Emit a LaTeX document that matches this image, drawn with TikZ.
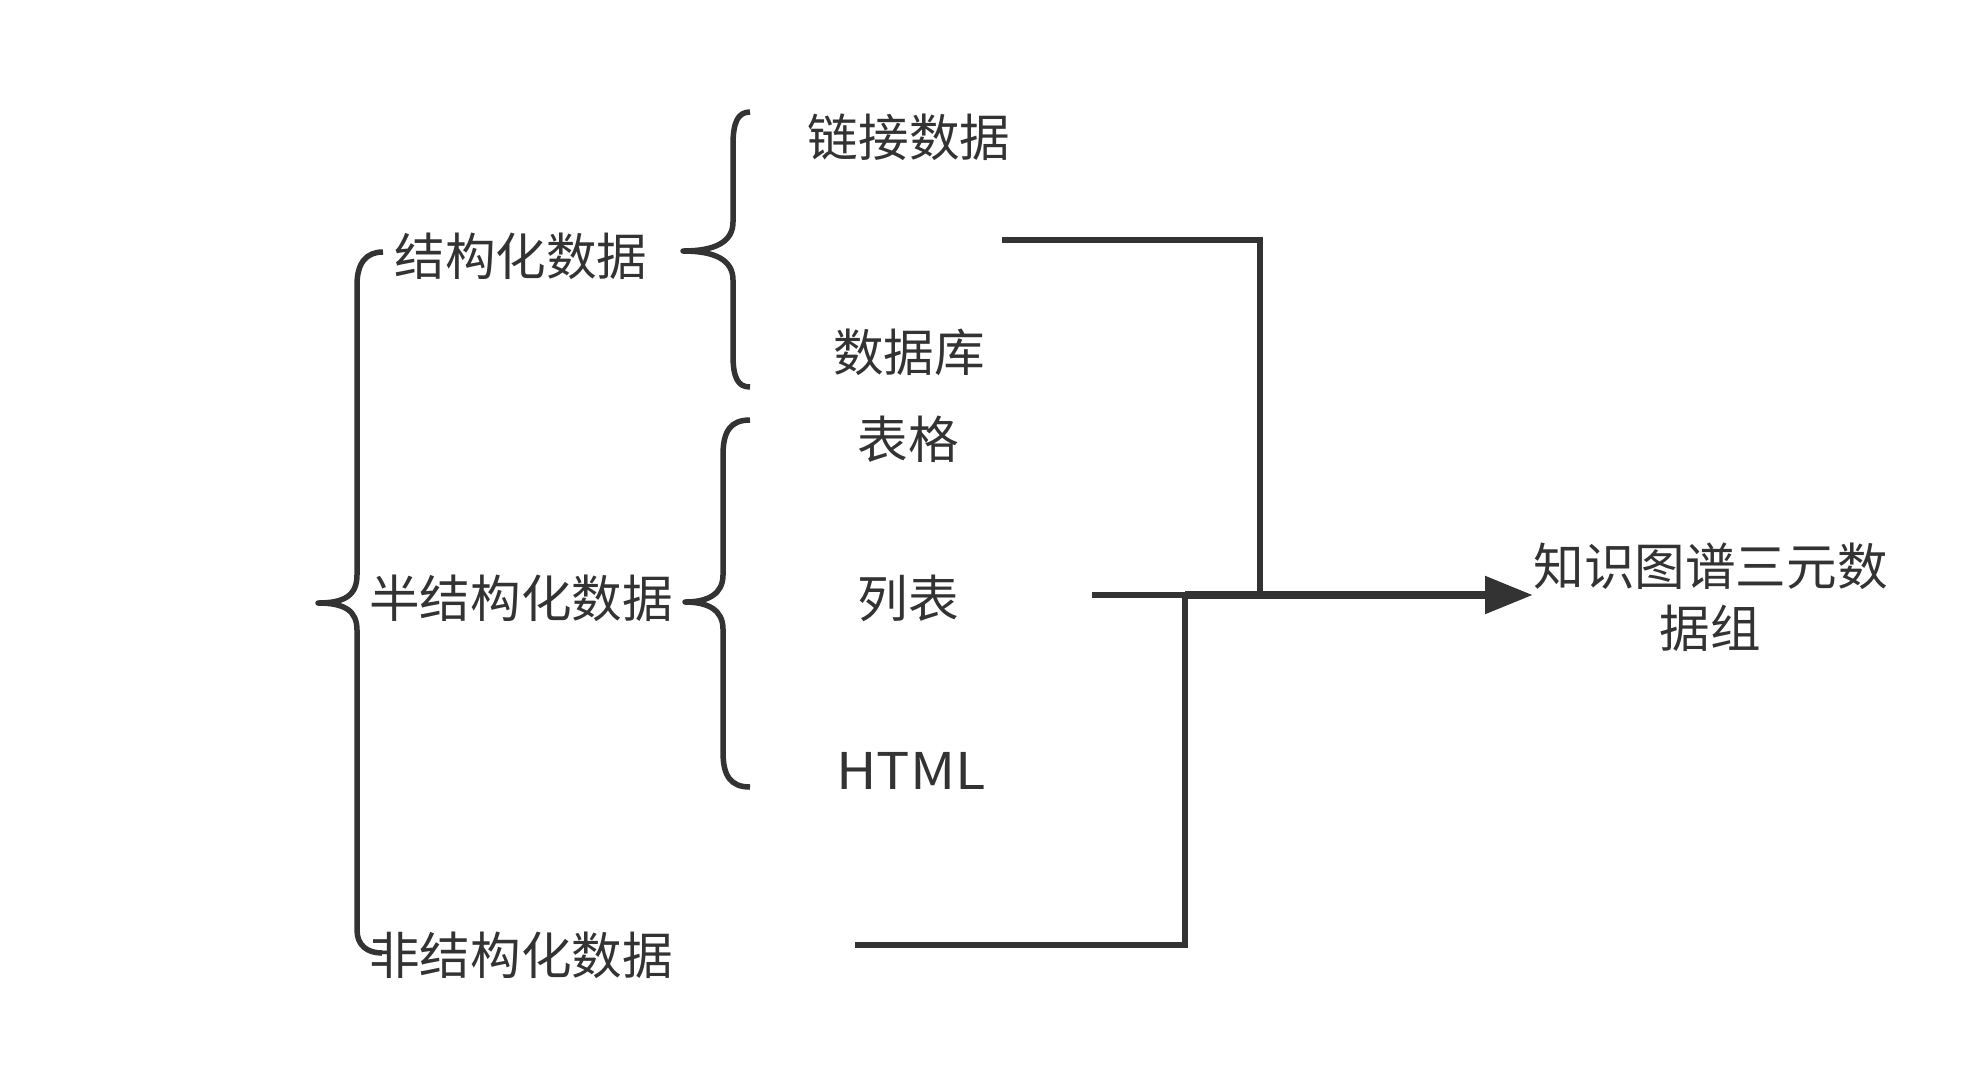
\documentclass[tikz,border=0pt]{standalone}
\usepackage{fontspec}
\setmainfont{Noto Sans CJK SC}
\usetikzlibrary{arrows.meta}
\definecolor{ink}{HTML}{333333}
\begin{document}
\begin{tikzpicture}[x=0.5pt,y=-0.5pt,
  lbl/.style={inner sep=0pt, text=ink, font=\fontsize{25.3pt}{31pt}\selectfont},
  bracestroke/.style={draw=ink, line width=2.75pt, line join=round},
  conn/.style={draw=ink, line width=2.9pt},
  bigarrow/.style={draw=ink, line width=4.2pt, -{Triangle[length=24pt,width=18pt]}}]
\useasboundingbox (0,0) rectangle (1965,1089);

% text nodes
\node[lbl] (sd) at (521,256) {结构化数据};
\node[lbl] (ssd) at (521,598) {半结构化数据};
\node[lbl] (usd) at (521,955) {非结构化数据};
\node[lbl] (ld) at (909,137) {链接数据};
\node[lbl] (db) at (909,352) {数据库};
\node[lbl] (tb) at (908,439) {表格};
\node[lbl] (ls) at (908,598) {列表};
\node[lbl] (html) at (911,771) {\addfontfeature{FakeStretch=1.1}HTML};
\node[lbl, align=center, anchor=west] (kg) at (1533,597) {知识图谱三元数\\据组};

% braces
\draw[bracestroke] (383,252) .. controls (367,252) and (357,262) .. (357,285)
  -- (357,575) .. controls (357,595) and (345,603) .. (318,603)
  .. controls (345,603) and (357,611) .. (357,630)
  -- (357,930) .. controls (357,945) and (367,953) .. (382,953);
\draw[bracestroke] (750,112) .. controls (738,112) and (733,122) .. (733,145)
  -- (733,222) .. controls (733,242) and (715,251) .. (683,251)
  .. controls (715,251) and (733,260) .. (733,280)
  -- (733,355) .. controls (733,378) and (738,387) .. (750,387);
\draw[bracestroke] (750,420) .. controls (730,420) and (723,432) .. (723,455)
  -- (723,575) .. controls (723,594) and (708,602) .. (685,602)
  .. controls (708,602) and (723,610) .. (723,629)
  -- (723,752) .. controls (723,775) and (730,787) .. (750,787);

% connectors
\coordinate (s1) at (1002,240);
\coordinate (c1) at (1260,240);
\coordinate (m1) at (1260,595);
\coordinate (s2) at (1092,595);
\coordinate (j) at (1185,595);
\coordinate (s3) at (855,945);
\coordinate (c3) at (1185,945);

\draw[conn] (s1) -- (c1) -- (m1);
\draw[conn] (s2) -- (j);
\draw[conn] (s3) -- (c3) -- (j);
\draw[bigarrow] (j) -- (j -| kg.west);
\end{tikzpicture}
\end{document}
